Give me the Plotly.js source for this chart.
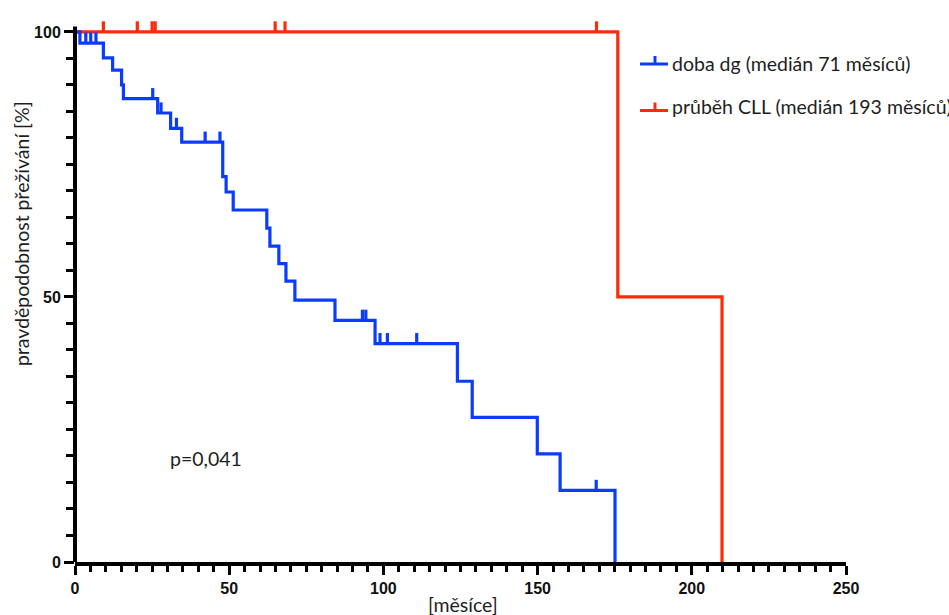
<!DOCTYPE html>
<html><head><meta charset="utf-8">
<script src="https://cdn.plot.ly/plotly-3.0.1.min.js"></script>
<style>html,body{margin:0;padding:0;background:#fff}#chart{width:949px;height:615px}</style>
</head><body><div id="chart"></div>
<script>
// ---- data ----
const dgTimes = [0, 1.6, 9.2, 12.2, 15.1, 15.7, 26.8, 31.0, 34.6, 47.9, 49.0, 51.3, 62.2, 63.2, 66.1, 68.4, 71.3, 84.3, 97.3, 124.0, 128.8, 149.9, 157.3, 175.1];
const dgSurv  = [100, 97.9, 95.1, 92.8, 90.0, 87.4, 84.7, 81.8, 79.2, 72.7, 69.8, 66.4, 63.0, 59.6, 56.3, 53.0, 49.4, 45.6, 41.2, 34.1, 27.3, 20.4, 13.5, 0];
const dgCensored = [3.5, 5.1, 6.8, 25.2, 27.9, 32.9, 42.2, 47.0, 93.2, 94.3, 98.9, 101.3, 110.8, 169.0];
const cllTimes = [0, 176.0, 209.8];
const cllSurv  = [100, 50, 0];
const cllCensored = [9.2, 20.2, 25.0, 26.0, 64.9, 68.1, 169.1];
const seriesNames = ['doba dg (medián 71 měsíců)', 'průběh CLL (medián 193 měsíců)'];
const xTickVals = [0, 50, 100, 150, 200, 250];
const yTickVals = [0, 50, 100];
const xTitle = '[měsíce]';
const yTitle = 'pravděpodobnost přežívání [%]';
const pText = 'p=0,041';

// ---- helpers ----
const BLUE = '#0a3cff', RED = '#ff2a0a';
const TICK_H = 2.0; // censor tick height in % units
function survAt(times, surv, t) {
  let s = surv[0];
  for (let i = 0; i < times.length; i++) if (times[i] <= t) s = surv[i];
  return s;
}
function censorSegs(times, surv, cens) {
  const x = [], y = [];
  cens.forEach(t => { const s = survAt(times, surv, t); x.push(t, t, null); y.push(s, s + TICK_H, null); });
  return {x, y};
}
const cllC = censorSegs(cllTimes, cllSurv, cllCensored);
const dgC = censorSegs(dgTimes, dgSurv, dgCensored);

const LW = 3.2;
const traces = [
  {x: cllTimes, y: cllSurv, type: 'scatter', mode: 'lines', line: {color: RED, width: LW, shape: 'hv'}, showlegend: false},
  {x: cllC.x, y: cllC.y, type: 'scatter', mode: 'lines', line: {color: RED, width: LW}, showlegend: false, connectgaps: false},
  {x: dgTimes, y: dgSurv, type: 'scatter', mode: 'lines', line: {color: BLUE, width: LW, shape: 'hv'}, showlegend: false},
  {x: dgC.x, y: dgC.y, type: 'scatter', mode: 'lines', line: {color: BLUE, width: LW}, showlegend: false, connectgaps: false}
];

// pixel -> paper helpers for decorations
const L = 75, R = 103, T = 16, B = 53, W = 949, H = 615;
const PW = W - L - R, PH = H - T - B;
const px = v => (v - L) / PW;
const py = v => (H - B - v) / PH;

const textFont = {family: 'Lato, "Open Sans", sans-serif', size: 19.5, color: '#1e1e1e'};
const tickFont = {family: '"Liberation Sans", Arial, sans-serif', size: 16, color: '#111', weight: 'bold'};

function legendShapes(yPix, color) {
  return [
    {type: 'line', xref: 'paper', yref: 'paper', x0: px(640), x1: px(668), y0: py(yPix), y1: py(yPix), line: {color, width: 3}},
    {type: 'line', xref: 'paper', yref: 'paper', x0: px(655), x1: px(655), y0: py(yPix), y1: py(yPix - 8), line: {color, width: 3}}
  ];
}

const layout = {
  width: W, height: H,
  margin: {l: L, r: R, t: T, b: B, pad: 0},
  paper_bgcolor: '#fff', plot_bgcolor: '#fff',
  showlegend: false,
  xaxis: {
    range: [0, 250], tickvals: xTickVals, ticktext: xTickVals.map(String),
    showgrid: false, zeroline: false, showline: true, linecolor: '#000', linewidth: 4,
    ticks: 'outside', ticklen: 9, tickwidth: 3, tickcolor: '#000',
    minor: {dtick: 5, ticks: 'outside', ticklen: 6, tickwidth: 3, tickcolor: '#000', showgrid: false},
    tickfont: tickFont, fixedrange: true
  },
  yaxis: {
    range: [0, 103], tickvals: yTickVals, ticktext: yTickVals.map(String),
    showgrid: false, zeroline: false, showline: false,
    ticks: 'outside', ticklen: 10, tickwidth: 3, tickcolor: '#000',
    minor: {tickvals: Array.from({length: 21}, (_, i) => i * 5), ticks: 'outside', ticklen: 8, tickwidth: 3, tickcolor: '#000', showgrid: false},
    tickfont: tickFont, fixedrange: true
  },
  shapes: [
    {type: 'line', xref: 'paper', yref: 'y', x0: 0, x1: 0, y0: 0, y1: 101, line: {color: '#000', width: 4}},
    ...legendShapes(64, BLUE),
    ...legendShapes(110.5, RED)
  ],
  annotations: [
    {text: yTitle, xref: 'paper', yref: 'paper', x: px(21), y: py(234), textangle: -90, showarrow: false, font: textFont, xanchor: 'center', yanchor: 'middle'},
    {text: xTitle, xref: 'paper', yref: 'paper', x: px(463), y: py(604), showarrow: false, font: textFont, xanchor: 'center', yanchor: 'middle'},
    {text: pText, xref: 'paper', yref: 'paper', x: px(168), y: py(458), showarrow: false, font: textFont, xanchor: 'left', yanchor: 'middle'},
    {text: seriesNames[0], xref: 'paper', yref: 'paper', x: px(670), y: py(63), showarrow: false, font: textFont, xanchor: 'left', yanchor: 'middle'},
    {text: seriesNames[1], xref: 'paper', yref: 'paper', x: px(670), y: py(107), showarrow: false, font: textFont, xanchor: 'left', yanchor: 'middle'}
  ]
};

Plotly.newPlot('chart', traces, layout, {staticPlot: true, displayModeBar: false});
</script>
</body></html>
